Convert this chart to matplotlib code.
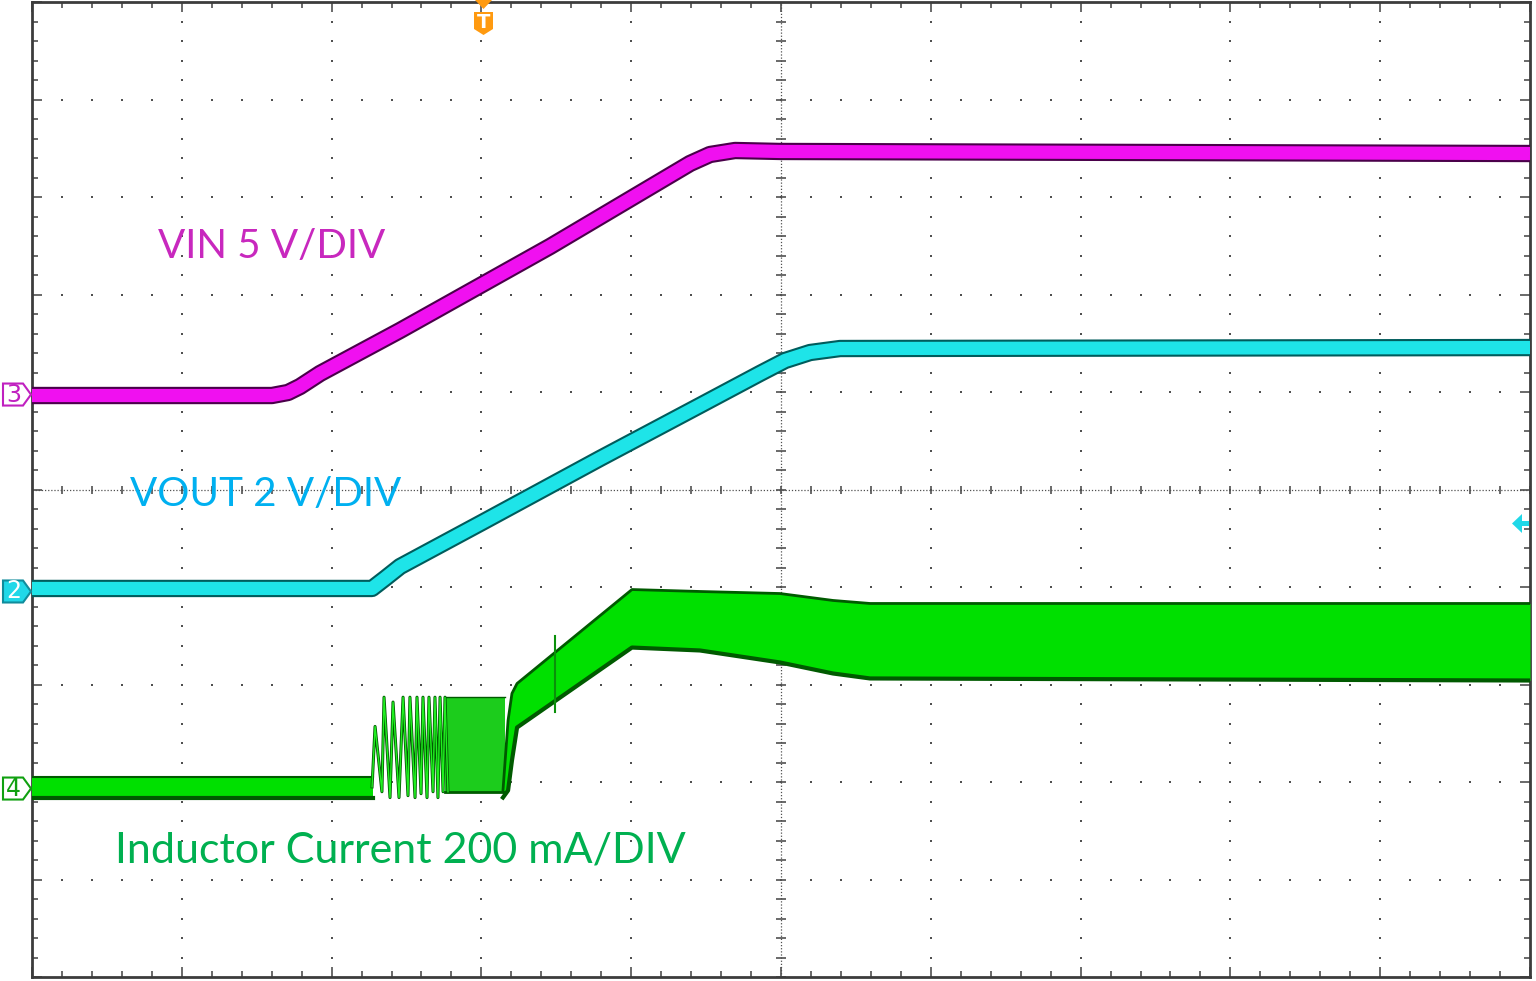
import numpy as np
import matplotlib.pyplot as plt
from matplotlib.patches import Polygon

# screen units are divisions: x 0..10, y -5..5 (centre line = 0)
vin_x = [0.0, 1.602, 1.709, 1.789, 1.923, 2.457, 3.458, 4.393, 4.526, 4.693, 4.993, 10.0]
vin_y = [0.964, 0.964, 0.995, 1.056, 1.190, 1.631, 2.492, 3.344, 3.436, 3.477, 3.467, 3.446]

vout_x = [0.0, 2.270, 2.356, 2.457, 3.004, 3.792, 4.459, 4.860, 5.027, 5.194, 5.394, 10.0]
vout_y = [-1.015, -1.015, -0.913, -0.790, -0.338, 0.318, 0.862, 1.190, 1.323, 1.405, 1.446, 1.456]

# inductor current: flat part before start-up
il_base_x = [0.0, 2.276]
il_base_hi = [-2.95, -2.95]
il_base_lo = [-3.16, -3.16]

# burst pulses at start-up (peaks / valleys)
il_osc_x = [2.270, 2.290, 2.336, 2.350, 2.390, 2.410, 2.450, 2.477, 2.510, 2.523,
            2.557, 2.570, 2.597, 2.610, 2.637, 2.650, 2.677, 2.690, 2.710, 2.724,
            2.744, 2.757, 2.777]
il_osc_y = [-3.05, -2.43, -3.10, -2.13, -3.16, -2.18, -3.16, -2.13, -3.14, -2.13,
            -3.16, -2.13, -3.12, -2.13, -3.16, -2.13, -3.10, -2.13, -3.16, -2.13,
            -3.10, -2.13, -3.10]
il_dense_x = [2.757, 3.160]
il_dense_hi = [-2.13, -2.13]
il_dense_lo = [-3.10, -3.10]

# ripple envelope after the burst
il_x = [3.144, 3.178, 3.204, 3.238, 4.005, 4.459, 4.993, 5.347, 5.594, 10.0]
il_hi = [-3.087, -2.369, -2.092, -1.990, -1.026, -1.046, -1.067, -1.138, -1.169, -1.169]
il_lo = [-3.159, -3.087, -2.779, -2.441, -1.621, -1.651, -1.774, -1.887, -1.938, -1.959]

# single glitch on the ramp
il_spike_x = [3.490, 3.490]
il_spike_y = [-1.50, -2.28]

labels = ["VIN 5 V/DIV", "VOUT 2 V/DIV", "Inductor Current 200 mA/DIV"]
label_x = [0.841, 0.654, 0.554]
label_y = [2.37, -0.17, -3.83]
label_size = [29, 29, 31]
label_col = ["#c828be", "#00b0f0", "#00b050"]

ch_names = ["3", "2", "4"]
ch_level = [0.974, -1.046, -3.067]


def px(x, y):
    # screen pixel -> divisions, only for the little decorations
    return ((x - 32) / 149.8, (489.5 - y) / 97.5)


plt.rcParams['font.family'] = ['Lato', 'DejaVu Sans']

fig = plt.figure(figsize=(15.36, 9.81), dpi=100)
ax = fig.add_axes([32 / 1536, 4 / 981, 1498 / 1536, 975 / 981])
ax.set_xlim(0, 10)
ax.set_ylim(-5, 5)

# --- graticule
dot_c = "#505050"
sub_y = np.arange(-5, 5.01, 0.2)
sub_x = np.arange(0, 10.01, 0.2)
for gx in [1, 2, 3, 4, 6, 7, 8, 9]:
    ax.plot(np.full(len(sub_y), gx), sub_y, 's', ms=1.5, color=dot_c, mew=0, zorder=1)
for gy in [-4, -3, -2, -1, 1, 2, 3, 4]:
    ax.plot(sub_x, np.full(len(sub_x), gy), 's', ms=1.5, color=dot_c, mew=0, zorder=1)
ax.axhline(0, ls=(0, (1, 1.5)), lw=0.9, color=dot_c, zorder=1)
ax.axvline(5, ls=(0, (1, 1.5)), lw=0.9, color=dot_c, zorder=1)
ax.plot(sub_x, np.zeros(len(sub_x)), '|', ms=6, mew=1.2, color=dot_c, zorder=1)
ax.plot(np.full(len(sub_y), 5), sub_y, '_', ms=7, mew=1.2, color=dot_c, zorder=1)

ax.set_xticks(np.arange(0, 10.01, 1))
ax.set_xticks(sub_x, minor=True)
ax.set_yticks(np.arange(-5, 5.01, 1))
ax.set_yticks(sub_y, minor=True)
ax.tick_params(which='both', direction='in', top=True, right=True,
               labelbottom=False, labelleft=False, color=dot_c, width=1.2)
ax.tick_params(which='major', length=7)
ax.tick_params(which='minor', length=4)
for s in ax.spines.values():
    s.set_color("#3c3c3c")
    s.set_linewidth(2)

# --- traces
ax.plot(vin_x, vin_y, color="#4a004a", lw=12.5, solid_capstyle='butt', zorder=3)
ax.plot(vin_x, vin_y, color="#f010f0", lw=9.5, solid_capstyle='butt', zorder=4)

ax.plot(vout_x, vout_y, color="#005c5c", lw=12.5, solid_capstyle='butt', zorder=3)
ax.plot(vout_x, vout_y, color="#1ee4e8", lw=9.5, solid_capstyle='butt', zorder=4)

g_light = "#00e000"
g_dark = "#005a00"
ax.fill_between(il_base_x, il_base_lo, il_base_hi, color=g_light, lw=0, zorder=3)
ax.plot(il_base_x, il_base_hi, color=g_dark, lw=1.5, zorder=4)
ax.plot(il_base_x, il_base_lo, color=g_dark, lw=3, zorder=4)

ax.fill_between(il_dense_x, il_dense_lo, il_dense_hi, color="#1ccc1c", lw=0, zorder=3)
ax.plot(il_dense_x, il_dense_hi, color=g_dark, lw=1, zorder=4)
ax.plot(il_dense_x, il_dense_lo, color=g_dark, lw=2, zorder=4)
ax.plot(il_osc_x, il_osc_y, color=g_dark, lw=2.2, zorder=3)
ax.plot(il_osc_x, il_osc_y, color="#20f020", lw=1.0, zorder=4)

ax.fill_between(il_x, il_lo, il_hi, color=g_light, lw=0, zorder=3)
ax.plot(il_x, il_hi, color=g_dark, lw=2, zorder=4)
ax.plot(il_x, il_lo, color=g_dark, lw=3, zorder=4)
ax.plot(il_spike_x, il_spike_y, color="#0a900a", lw=1.5, zorder=4)

# --- labels
for t, lx, ly, fs, c in zip(labels, label_x, label_y, label_size, label_col):
    ax.text(lx, ly, t, color=c, fontsize=fs, ha='left', va='baseline', zorder=6)

# --- channel markers on the left
ch_edge = ["#c020c0", "#108c9c", "#10a010"]
ch_face = ["white", "#20d8e8", "white"]
ch_text = ["#c020c0", "white", "#10a010"]
for name, lv, ec, fc, tc in zip(ch_names, ch_level, ch_edge, ch_face, ch_text):
    yc = 489.5 - lv * 97.5
    pts = [px(3, yc - 11), px(23, yc - 11), px(31, yc), px(23, yc + 11), px(3, yc + 11)]
    ax.add_patch(Polygon(pts, closed=True, fc=fc, ec=ec, lw=1.5, clip_on=False, zorder=7))
    tx, ty = px(13.5, yc)
    ax.text(tx, ty, name, color=tc, fontsize=17, ha='center', va='center',
            family='DejaVu Sans', clip_on=False, zorder=8)

# --- trigger marker
orange = "#ff9a10"
tri = [px(475, 0), px(492, 0), px(483.5, 9)]
ax.add_patch(Polygon(tri, closed=True, fc=orange, ec='none', clip_on=False, zorder=9))
badge = [px(474, 12), px(493, 12), px(493, 29), px(483.5, 35), px(474, 29)]
ax.add_patch(Polygon(badge, closed=True, fc=orange, ec='none', clip_on=False, zorder=7))
bx, by = px(483.5, 22)
ax.text(bx, by, "T", color='white', fontsize=14, fontweight='bold', ha='center',
        va='center', family='DejaVu Sans', zorder=8)

# --- cyan offset arrow on the right
arr = [px(1512, 523.5), px(1522, 514), px(1522, 521), px(1529, 521),
       px(1529, 526), px(1522, 526), px(1522, 533)]
ax.add_patch(Polygon(arr, closed=True, fc="#20d8e8", ec='none', clip_on=False, zorder=9))

fig.savefig("out.png", dpi=100)
